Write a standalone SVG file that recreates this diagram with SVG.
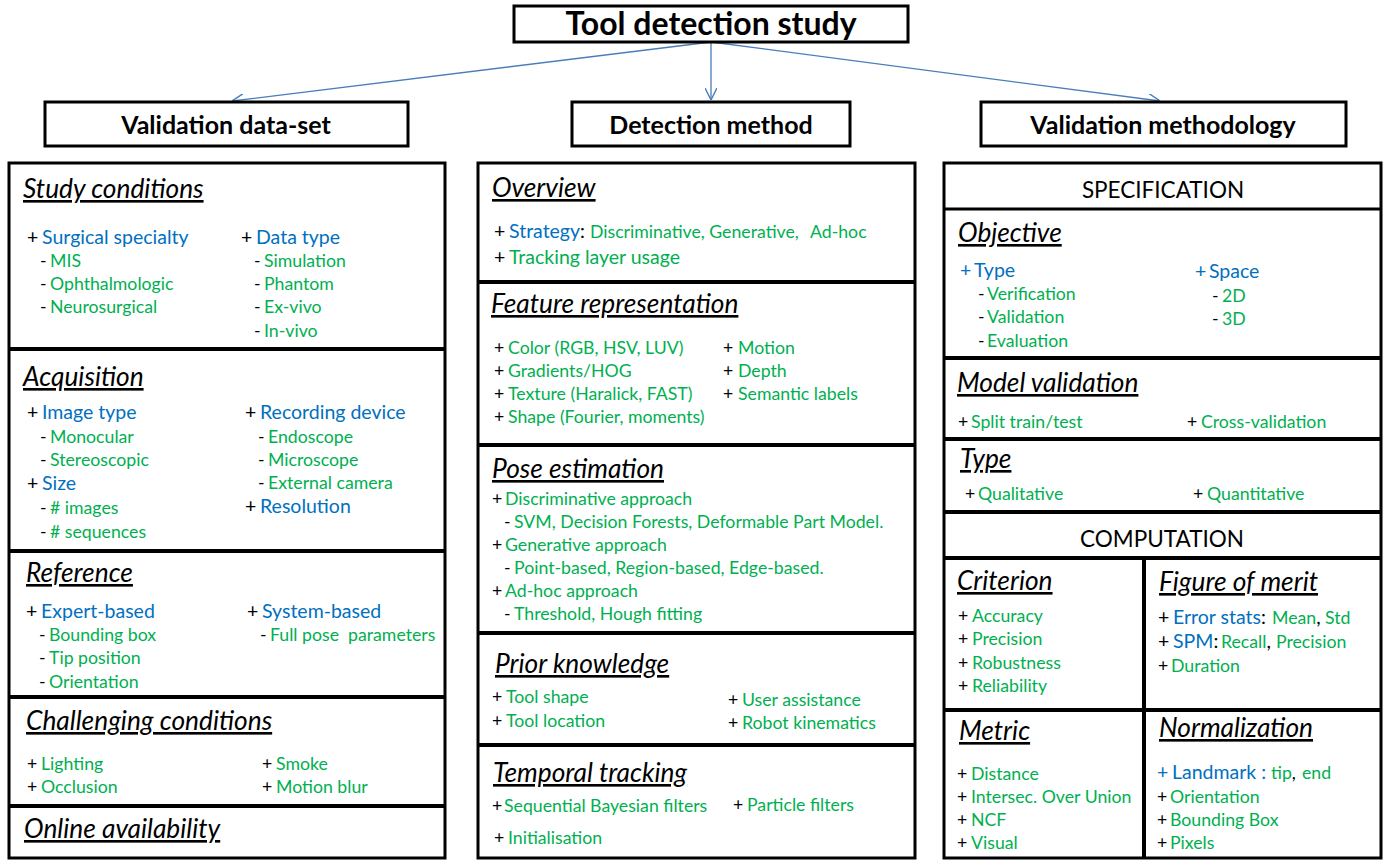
<svg xmlns="http://www.w3.org/2000/svg" width="1390" height="861" viewBox="0 0 1390 861">
<style>
text{font-family:Lato,"Open Sans","DejaVu Sans",sans-serif;fill:#000}
.t{font-size:32px;font-weight:bold;text-anchor:middle}
.hd{font-size:25px;font-weight:bold;text-anchor:middle}
.cap{font-size:22.5px;text-anchor:middle}
.h{font-size:26.3px;font-style:italic;text-decoration:underline}
.b{font-size:19.5px}
.g{font-size:17.7px}
.bl{fill:#0070C0}
.gr{fill:#00B050}
.box{fill:#fff;stroke:#000;stroke-width:3}
.sep{stroke:#000;stroke-width:4}
.shd{stroke:#9a9a9a;stroke-width:4;opacity:.55;filter:url(#blur)}
.con{stroke:#4a7ebb;stroke-width:1.3;fill:none;marker-end:url(#arr)}
</style>
<defs>
<filter id="blur" x="-5%" y="-200%" width="110%" height="500%"><feGaussianBlur stdDeviation="1.6"/></filter>
<marker id="arr" markerWidth="12" markerHeight="12" refX="10" refY="5" orient="auto" markerUnits="userSpaceOnUse" viewBox="0 0 10 10">
<path d="M0,0 L10,5 L0,10" fill="none" stroke="#4a7ebb" stroke-width="1.2"/>
</marker>
</defs>
<rect width="1390" height="861" fill="#fff"/>

<g id="connectors">
<line class="con" x1="711" y1="42" x2="232" y2="101"/>
<line class="con" x1="711" y1="42" x2="711" y2="100"/>
<line class="con" x1="711" y1="42" x2="1160" y2="101"/>
</g>

<g id="title">
<rect class="box" x="514" y="6" width="394" height="36"/>
<text class="t" x="711" y="35">Tool detection study</text>
</g>
<g id="hdr-dataset">
<rect class="box" x="45" y="102" width="363" height="44"/>
<text class="hd" x="226" y="134">Validation data-set</text>
</g>
<g id="hdr-method">
<rect class="box" x="572" y="102" width="278" height="44"/>
<text class="hd" x="711" y="134">Detection method</text>
</g>
<g id="hdr-methodology">
<rect class="box" x="981" y="102" width="365" height="44"/>
<text class="hd" x="1163" y="134">Validation methodology</text>
</g>

<!-- LEFT COLUMN -->
<g id="col-dataset">
<rect class="box" x="9" y="163" width="436" height="695"/>
<line class="shd" x1="12" y1="353" x2="448" y2="353"/>
<line class="shd" x1="12" y1="555" x2="448" y2="555"/>
<line class="shd" x1="12" y1="701" x2="448" y2="701"/>
<line class="shd" x1="12" y1="810" x2="448" y2="810"/>
<line class="sep" x1="9" y1="349" x2="445" y2="349"/>
<line class="sep" x1="9" y1="551" x2="445" y2="551"/>
<line class="sep" x1="9" y1="697" x2="445" y2="697"/>
<line class="sep" x1="9" y1="806" x2="445" y2="806"/>
</g>
<g id="study-conditions">
<text class="h" x="23" y="198">Study conditions</text>
<text class="b" x="27" y="244">+<tspan class="bl" x="42">Surgical specialty</tspan></text>
<text class="g" x="40" y="267">-<tspan class="gr" x="50">MIS</tspan></text>
<text class="g" x="40" y="290">-<tspan class="gr" x="50">Ophthalmologic</tspan></text>
<text class="g" x="40" y="313">-<tspan class="gr" x="50">Neurosurgical</tspan></text>
<text class="b" x="241" y="244">+<tspan class="bl" x="256">Data type</tspan></text>
<text class="g" x="254" y="267">-<tspan class="gr" x="264">Simulation</tspan></text>
<text class="g" x="254" y="290">-<tspan class="gr" x="264">Phantom</tspan></text>
<text class="g" x="254" y="313">-<tspan class="gr" x="264">Ex-vivo</tspan></text>
<text class="g" x="254" y="337">-<tspan class="gr" x="264">In-vivo</tspan></text>
</g>
<g id="acquisition">
<text class="h" x="23" y="386">Acquisition</text>
<text class="b" x="27" y="419">+<tspan class="bl" x="42">Image type</tspan></text>
<text class="g" x="40" y="443">-<tspan class="gr" x="50">Monocular</tspan></text>
<text class="g" x="40" y="466">-<tspan class="gr" x="50">Stereoscopic</tspan></text>
<text class="b" x="27" y="490">+<tspan class="bl" x="42">Size</tspan></text>
<text class="g" x="40" y="514">-<tspan class="gr" x="50"># images</tspan></text>
<text class="g" x="40" y="538">-<tspan class="gr" x="50"># sequences</tspan></text>
<text class="b" x="245" y="419">+<tspan class="bl" x="260">Recording device</tspan></text>
<text class="g" x="258" y="443">-<tspan class="gr" x="268">Endoscope</tspan></text>
<text class="g" x="258" y="466">-<tspan class="gr" x="268">Microscope</tspan></text>
<text class="g" x="258" y="489">-<tspan class="gr" x="268">External camera</tspan></text>
<text class="b" x="245" y="513">+<tspan class="bl" x="260">Resolution</tspan></text>
</g>
<g id="reference">
<text class="h" x="26" y="582">Reference</text>
<text class="b" x="26" y="618">+<tspan class="bl" x="41">Expert-based</tspan></text>
<text class="g" x="39" y="641">-<tspan class="gr" x="49">Bounding box</tspan></text>
<text class="g" x="39" y="664">-<tspan class="gr" x="49">Tip position</tspan></text>
<text class="g" x="39" y="688">-<tspan class="gr" x="49">Orientation</tspan></text>
<text class="b" x="247" y="618">+<tspan class="bl" x="262">System-based</tspan></text>
<text class="g" x="260" y="641">-<tspan class="gr" x="270">Full pose&#160; parameters</tspan></text>
</g>
<g id="challenging-conditions">
<text class="h" x="26" y="730">Challenging conditions</text>
<text class="g" x="27" y="770">+<tspan class="gr" x="41">Lighting</tspan></text>
<text class="g" x="27" y="793">+<tspan class="gr" x="41">Occlusion</tspan></text>
<text class="g" x="262" y="770">+<tspan class="gr" x="276">Smoke</tspan></text>
<text class="g" x="262" y="793">+<tspan class="gr" x="276">Motion blur</tspan></text>
</g>
<g id="online-availability">
<text class="h" x="24" y="838">Online availability</text>
</g>

<!-- MIDDLE COLUMN -->
<g id="col-method">
<rect class="box" x="478" y="163" width="437" height="695"/>
<line class="shd" x1="481" y1="286" x2="918" y2="286"/>
<line class="shd" x1="481" y1="449" x2="918" y2="449"/>
<line class="shd" x1="481" y1="637" x2="918" y2="637"/>
<line class="shd" x1="481" y1="749" x2="918" y2="749"/>
<line class="sep" x1="478" y1="282" x2="915" y2="282"/>
<line class="sep" x1="478" y1="445" x2="915" y2="445"/>
<line class="sep" x1="478" y1="633" x2="915" y2="633"/>
<line class="sep" x1="478" y1="745" x2="915" y2="745"/>
</g>
<g id="overview">
<text class="h" x="492" y="197">Overview</text>
<text class="b" x="494" y="238">+<tspan class="bl" x="509">Strategy</tspan>:<tspan class="gr g" x="590">Discriminative, Generative,</tspan><tspan class="gr g" x="810">Ad-hoc</tspan></text>
<text class="b" x="494" y="264">+<tspan class="gr" x="509">Tracking layer usage</tspan></text>
</g>
<g id="feature-representation">
<text class="h" x="491" y="313">Feature representation</text>
<text class="g" x="494" y="354">+<tspan class="gr" x="508">Color (RGB, HSV, LUV)</tspan></text>
<text class="g" x="494" y="377">+<tspan class="gr" x="508">Gradients/HOG</tspan></text>
<text class="g" x="494" y="400">+<tspan class="gr" x="508">Texture (Haralick, FAST)</tspan></text>
<text class="g" x="494" y="423">+<tspan class="gr" x="508">Shape (Fourier, moments)</tspan></text>
<text class="g" x="723" y="354">+<tspan class="gr" x="738">Motion</tspan></text>
<text class="g" x="723" y="377">+<tspan class="gr" x="738">Depth</tspan></text>
<text class="g" x="723" y="400">+<tspan class="gr" x="738">Semantic labels</tspan></text>
</g>
<g id="pose-estimation">
<text class="h" x="492" y="478">Pose estimation</text>
<text class="g" x="492" y="505">+<tspan class="gr" x="505">Discriminative approach</tspan></text>
<text class="g" x="504" y="528">-<tspan class="gr" x="514">SVM, Decision Forests, Deformable Part Model.</tspan></text>
<text class="g" x="492" y="551">+<tspan class="gr" x="505">Generative approach</tspan></text>
<text class="g" x="504" y="574">-<tspan class="gr" x="514">Point-based, Region-based, Edge-based.</tspan></text>
<text class="g" x="492" y="597">+<tspan class="gr" x="505">Ad-hoc approach</tspan></text>
<text class="g" x="504" y="620">-<tspan class="gr" x="514">Threshold, Hough fitting</tspan></text>
</g>
<g id="prior-knowledge">
<text class="h" x="495" y="673">Prior knowledge</text>
<text class="g" x="492" y="703">+<tspan class="gr" x="506">Tool shape</tspan></text>
<text class="g" x="492" y="727">+<tspan class="gr" x="506">Tool location</tspan></text>
<text class="g" x="728" y="706">+<tspan class="gr" x="742">User assistance</tspan></text>
<text class="g" x="728" y="729">+<tspan class="gr" x="742">Robot kinematics</tspan></text>
</g>
<g id="temporal-tracking">
<text class="h" x="493" y="782">Temporal tracking</text>
<text class="g" x="492" y="812">+<tspan class="gr" x="504">Sequential Bayesian filters</tspan></text>
<text class="g" x="733" y="811">+<tspan class="gr" x="747">Particle filters</tspan></text>
<text class="g" x="494" y="844">+<tspan class="gr" x="508">Initialisation</tspan></text>
</g>

<!-- RIGHT COLUMN -->
<g id="col-methodology">
<rect class="box" x="944" y="163" width="437" height="695"/>
<line class="shd" x1="947" y1="212" x2="1384" y2="212"/>
<line class="shd" x1="947" y1="362" x2="1384" y2="362"/>
<line class="shd" x1="947" y1="443" x2="1384" y2="443"/>
<line class="shd" x1="947" y1="516" x2="1384" y2="516"/>
<line class="shd" x1="947" y1="562" x2="1384" y2="562"/>
<line class="shd" x1="947" y1="714" x2="1384" y2="714"/>
<line class="sep" x1="944" y1="209" x2="1381" y2="209" style="stroke-width:3"/>
<line class="sep" x1="944" y1="358" x2="1381" y2="358"/>
<line class="sep" x1="944" y1="439" x2="1381" y2="439"/>
<line class="sep" x1="944" y1="512" x2="1381" y2="512"/>
<line class="sep" x1="944" y1="558" x2="1381" y2="558"/>
<line class="sep" x1="944" y1="710" x2="1381" y2="710"/>
<line class="sep" x1="1144" y1="558" x2="1144" y2="858"/>
</g>
<g id="specification">
<text class="cap" x="1163" y="198">SPECIFICATION</text>
</g>
<g id="objective">
<text class="h" x="958" y="242">Objective</text>
<text class="b bl" x="960" y="277">+<tspan x="974">Type</tspan></text>
<text class="g" x="978" y="300">-<tspan class="gr" x="987">Verification</tspan></text>
<text class="g" x="978" y="323">-<tspan class="gr" x="987">Validation</tspan></text>
<text class="g" x="978" y="347">-<tspan class="gr" x="987">Evaluation</tspan></text>
<text class="b bl" x="1195" y="278">+<tspan x="1209">Space</tspan></text>
<text class="g" x="1212" y="302">-<tspan class="gr" x="1222">2D</tspan></text>
<text class="g" x="1212" y="325">-<tspan class="gr" x="1222">3D</tspan></text>
</g>
<g id="model-validation">
<text class="h" x="957" y="392">Model validation</text>
<text class="g" x="958" y="428">+<tspan class="gr" x="971">Split train/test</tspan></text>
<text class="g" x="1187" y="428">+<tspan class="gr" x="1201">Cross-validation</tspan></text>
</g>
<g id="type">
<text class="h" x="960" y="468">Type</text>
<text class="g" x="965" y="500">+<tspan class="gr" x="978">Qualitative</tspan></text>
<text class="g" x="1193" y="500">+<tspan class="gr" x="1207">Quantitative</tspan></text>
</g>
<g id="computation">
<text class="cap" x="1162" y="547">COMPUTATION</text>
</g>
<g id="criterion">
<text class="h" x="957" y="590">Criterion</text>
<text class="g" x="958" y="622">+<tspan class="gr" x="972">Accuracy</tspan></text>
<text class="g" x="958" y="645">+<tspan class="gr" x="972">Precision</tspan></text>
<text class="g" x="958" y="669">+<tspan class="gr" x="972">Robustness</tspan></text>
<text class="g" x="958" y="692">+<tspan class="gr" x="972">Reliability</tspan></text>
</g>
<g id="figure-of-merit">
<text class="h" x="1159" y="591">Figure of merit</text>
<text class="b" x="1158" y="624">+<tspan class="bl" x="1173">Error stats</tspan>:<tspan class="gr g" x="1272">Mean</tspan>,<tspan class="gr g" x="1325">Std</tspan></text>
<text class="b" x="1158" y="648">+<tspan class="bl" x="1173">SPM</tspan>:<tspan class="gr g" x="1221">Recall</tspan>,<tspan class="gr g" x="1276">Precision</tspan></text>
<text class="g" x="1158" y="672">+<tspan class="gr" x="1171">Duration</tspan></text>
</g>
<g id="metric">
<text class="h" x="959" y="740">Metric</text>
<text class="g" x="957" y="780">+<tspan class="gr" x="971">Distance</tspan></text>
<text class="g" x="957" y="803">+<tspan class="gr" x="971">Intersec. Over Union</tspan></text>
<text class="g" x="957" y="826">+<tspan class="gr" x="971">NCF</tspan></text>
<text class="g" x="957" y="849">+<tspan class="gr" x="971">Visual</tspan></text>
</g>
<g id="normalization">
<text class="h" x="1159" y="737">Normalization</text>
<text class="b bl" x="1157" y="779">+<tspan x="1172">Landmark :</tspan><tspan class="gr g" x="1271">tip</tspan><tspan class="g" style="fill:#000">,</tspan><tspan class="gr g" x="1302">end</tspan></text>
<text class="g" x="1157" y="803">+<tspan class="gr" x="1170">Orientation</tspan></text>
<text class="g" x="1157" y="826">+<tspan class="gr" x="1170">Bounding Box</tspan></text>
<text class="g" x="1157" y="849">+<tspan class="gr" x="1170">Pixels</tspan></text>
</g>
</svg>
